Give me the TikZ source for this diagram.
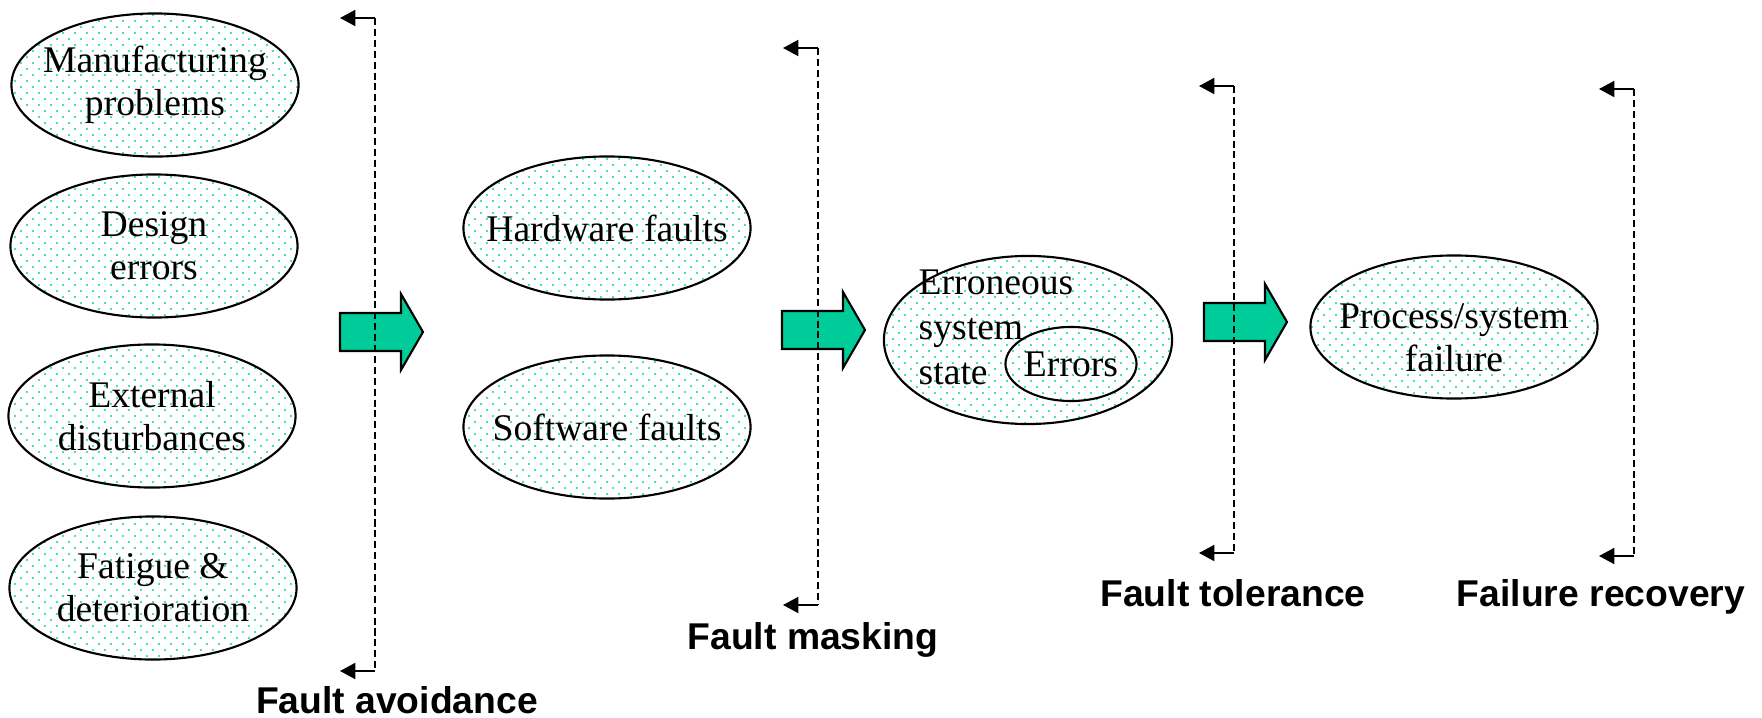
\documentclass[tikz,border=0pt]{standalone}
\usepackage{fontspec}
\setmainfont{Liberation Serif}
\setsansfont{Liberation Sans}
\usepackage{tikz}
\usetikzlibrary{arrows.meta,shapes.geometric,patterns.meta}
\definecolor{tkTeal}{RGB}{0,204,153}
\definecolor{tkDot}{RGB}{0,215,155}

\tikzdeclarepattern{
  name=tkdots,
  type=uncolored,
  bottom left={(0pt,0pt)},
  top right={(3.4pt,3.4pt)},
  tile size={(3.4pt,3.4pt)},
  code={\fill (0.85pt,0.85pt) circle (0.32pt);
        \fill (2.55pt,2.55pt) circle (0.32pt);}
}

\tikzset{
  stagebox/.style={ellipse, draw, line width=0.6pt, pattern=tkdots, pattern color=tkDot,
    minimum width=2.87cm, minimum height=1.43cm, inner sep=-0.25cm, align=center,
    font=\fontsize{10.7}{12.2}\selectfont},
  flowarrow/.style={draw, fill=tkTeal, line width=0.6pt, line join=miter},
  dashline/.style={dash pattern=on 2pt off 1.1pt, line width=0.5pt},
  backarrow/.style={-{Triangle[length=4.4pt,width=4.6pt]}, line width=0.5pt},
  phase/.style={anchor=base, font=\sffamily\bfseries\fontsize{10.6}{12}\selectfont}
}

\begin{document}
\begin{tikzpicture}[x=0.01cm, y=-0.01cm]
\useasboundingbox (0,0) rectangle (1762,718);
% causes
\node[stagebox] (manuf) at (155,85) {Manufacturing\\problems};
\node[stagebox] (design) at (154,246) {Design\\errors};
\node[stagebox] (extern) at (152,416) {External\\disturbances};
\node[stagebox] (fatigue) at (153,588) {Fatigue \&\\deterioration};
% faults
\node[stagebox] (hw) at (607,228) {Hardware faults};
\node[stagebox] (sw) at (607,427) {Software faults};
% errors
\node[stagebox, minimum width=2.88cm, minimum height=1.68cm] (errstate) at (1028,340) {};
\node[draw, ellipse, line width=0.6pt, minimum width=1.31cm, minimum height=0.74cm, inner sep=-0.1cm,
  font=\fontsize{10.7}{12.2}\selectfont] (errors) at (1071,364) {Errors};
\node[anchor=base west, align=left, inner sep=0pt, font=\fontsize{10.7}{12.66}\selectfont]
  (errtext) at (918,384) {Erroneous\\system\\state};
% failure
\node[stagebox] (failure) at (1454,327) {\rule{0pt}{13pt}Process/system\\failure};
% big arrows
\foreach \x/\y in {340/332, 782/330, 1204/322}
  \draw[flowarrow] (\x,\y-19) -- ++(61,0) -- ++(0,-19) -- ++(22,38) -- ++(-22,38)
    -- ++(0,-19) -- ++(-61,0) -- cycle;
% dashed brackets
\foreach \name/\x/\top/\bot in {avoid/375/18/671, mask/818/48/605, tol/1234/86/553, rec/1634/89/556}{
  \coordinate (\name T) at (\x,\top);
  \coordinate (\name B) at (\x,\bot);
  \coordinate (\name Tl) at (\x-35,\top);
  \coordinate (\name Bl) at (\x-35,\bot);
  \draw[dashline] (\name T) -- (\name B);
  \draw[backarrow] (\name T) -- (\name Tl);
  \draw[backarrow] (\name B) -- (\name Bl);
}
\node[phase] (lavoid) at (397,713) {Fault avoidance};
\node[phase] (lmask) at (813,649) {Fault masking};
\node[phase] (ltol) at (1233,606) {Fault tolerance};
\node[phase] (lrec) at (1601,606) {Failure recovery};
\end{tikzpicture}
\end{document}
